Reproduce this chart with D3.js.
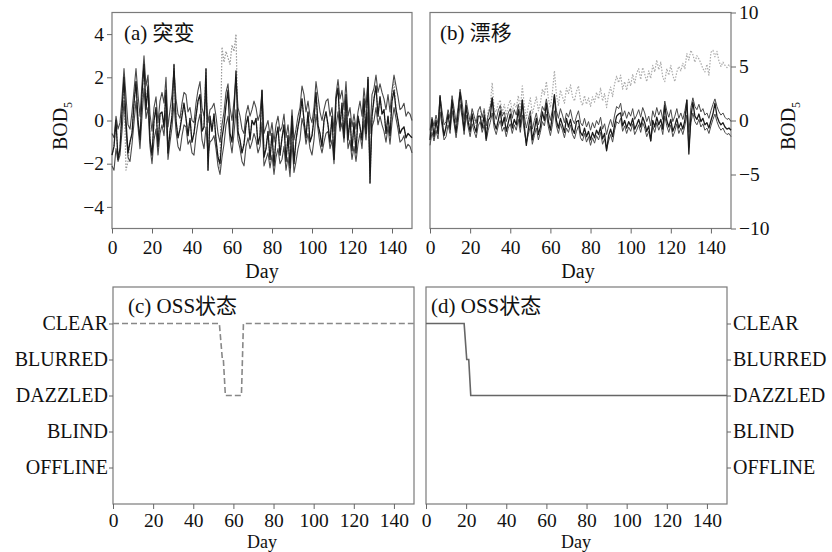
<!DOCTYPE html>
<html>
<head>
<meta charset="utf-8">
<script src="https://cdn.jsdelivr.net/npm/d3@7"></script>
<style>
body { margin: 0; background: #fff; }
text { font-family: "Liberation Serif", "Noto Sans CJK SC", serif; fill: #111; }
</style>
</head>
<body>
<div id="chart"></div>
<script>
"use strict";

// tick labels
var dayTicks = [0, 20, 40, 60, 80, 100, 120, 140];
var bodTicksA = [-4, -2, 0, 2, 4];
var bodTicksB = [-10, -5, 0, 5, 10];
var stateNames = ["CLEAR", "BLURRED", "DAZZLED", "BLIND", "OFFLINE"];

// (a) abrupt change: upper band, lower band, observed, raw (dotted)
var upperA = [-0.6,-0.8,0.2,-0.4,-0.1,1.0,2.4,1.1,-0.2,-0.4,
  0.4,1.4,2.4,1.2,0.2,1.7,3.0,1.6,2.1,0.3,
  -0.5,0.6,1.1,-0.1,0.9,1.3,0.8,2.0,-0.3,0.5,
  1.2,2.3,1.0,0.3,0.1,0.8,1.3,1.2,0.4,0.6,
  0.0,-0.1,0.8,1.4,1.8,0.6,0.2,1.2,-0.1,0.5,
  0.6,0.8,0.2,-0.6,-1.0,-0.2,0.4,1.3,1.7,0.6,
  0.0,0.9,2.0,0.6,0.2,-0.4,-0.6,0.3,0.7,0.2,
  0.5,0.9,0.6,0.0,0.3,1.4,-0.6,-0.3,0.0,-0.7,
  -0.1,-1.0,-0.2,0.2,-0.5,-0.3,0.3,-0.8,-0.2,-1.1,
  0.5,-0.9,-0.4,0.2,0.6,1.6,1.2,0.4,0.9,0.2,
  -0.1,0.6,1.8,1.1,0.4,0.0,0.5,0.9,1.0,0.2,
  0.6,-0.5,1.2,1.9,1.0,1.4,0.5,1.8,0.2,0.6,
  -0.3,0.3,-0.4,0.4,0.9,0.2,1.5,0.6,1.9,-0.6,
  1.2,1.5,2.1,1.3,1.7,1.3,1.0,0.5,1.2,0.4,
  1.4,2.1,1.6,1.1,0.5,0.6,0.8,0.2,0.4,0.3,
  0.0];
var lowerA = [-2.1,-2.3,-1.3,-1.9,-1.6,-0.5,0.9,-0.4,-1.7,-1.9,
  -1.1,-0.1,0.9,-0.3,-1.3,0.2,1.5,0.1,0.6,-1.2,
  -2.0,-0.9,-0.4,-1.6,-0.6,-0.2,-0.7,0.5,-1.8,-1.0,
  -0.3,0.8,-0.5,-1.2,-1.4,-0.7,-0.2,-0.3,-1.1,-0.9,
  -1.5,-1.6,-0.7,-0.1,0.3,-0.9,-1.3,-0.3,-1.6,-1.0,
  -0.9,-0.7,-1.3,-2.1,-2.5,-1.7,-1.1,-0.2,0.2,-0.9,
  -1.5,-0.6,0.5,-0.9,-1.3,-1.9,-2.1,-1.2,-0.8,-1.3,
  -1.0,-0.6,-0.9,-1.5,-1.2,-0.1,-2.1,-1.8,-1.5,-2.2,
  -1.6,-2.5,-1.7,-1.3,-2.0,-1.8,-1.2,-2.3,-1.7,-2.6,
  -1.0,-2.4,-1.9,-1.3,-0.9,0.1,-0.3,-1.1,-0.6,-1.3,
  -1.6,-0.9,0.3,-0.4,-1.1,-1.5,-1.0,-0.6,-0.5,-1.3,
  -0.9,-2.0,-0.3,0.4,-0.5,-0.1,-1.0,0.3,-1.3,-0.9,
  -1.8,-1.2,-1.9,-1.1,-0.6,-1.3,0.0,-0.9,0.4,-2.1,
  -0.3,0.0,0.6,-0.2,0.2,-0.2,-0.5,-1.0,-0.3,-1.1,
  -0.1,0.6,0.1,-0.4,-1.0,-0.9,-0.7,-1.3,-1.1,-1.2,
  -1.5];
var obsA = [-1.6,-1.2,0.0,-1.8,-1.3,0.4,2.0,0.0,-1.5,-1.0,
  -0.6,0.8,1.8,0.0,-0.9,1.2,2.6,0.5,1.6,-0.9,
  -1.6,0.0,0.6,-1.2,0.3,0.4,-0.3,1.4,-1.5,-0.5,
  0.2,2.6,0.0,-0.8,-0.4,0.2,0.8,0.1,-0.7,0.1,
  -1.0,-0.6,0.2,0.9,1.2,-0.5,-0.3,2.4,-2.3,0.2,
  -0.5,0.3,-0.9,-1.7,-2.0,-0.8,-0.2,0.7,1.4,-0.6,
  -1.0,0.4,2.3,-0.5,-0.9,-1.5,-1.1,-0.2,0.2,-0.9,
  0.0,-0.2,0.1,-1.1,-0.7,1.4,-1.7,-1.3,-0.5,-1.8,
  -0.6,-2.1,-0.8,-0.3,-1.6,-0.8,-0.2,-1.9,-0.7,-2.2,
  0.2,-2.0,-0.9,-0.3,0.2,1.0,0.0,-0.8,0.4,-1.0,
  -0.7,0.1,1.3,-0.2,-0.6,-1.2,0.0,0.4,-0.2,-1.0,
  0.2,-1.8,1.0,1.5,-0.3,0.8,-0.8,1.2,-0.9,0.1,
  -1.4,-0.1,-1.5,0.2,-0.3,-0.9,1.0,-0.6,2.0,-2.9,
  0.2,1.0,1.6,0.2,1.1,0.3,0.5,-0.6,0.2,-0.7,
  0.9,1.4,0.5,0.0,-0.6,-0.4,-0.3,-0.8,-0.6,-0.7,
  -0.8];
var rawA = [-1.6,-1.2,0.0,-1.8,-1.3,0.4,1.6,-2.3,-1.9,-1.0,
  -0.6,0.8,1.8,0.0,-0.9,1.2,2.6,0.5,1.9,-0.9,
  -1.6,0.0,0.6,-1.2,0.3,0.4,-0.3,1.4,-1.5,-0.5,
  0.2,2.6,0.0,-0.8,-0.4,0.8,0.8,0.1,-0.7,0.1,
  -1.0,-0.6,0.2,0.9,1.2,-0.5,-0.3,2.4,-2.3,0.2,
  -0.5,0.3,-0.9,-1.7,-2.2,3.4,2.7,3.2,2.9,2.6,
  3.5,3.2,4.0,-0.5,-0.9,-1.5,-1.1,-0.2,0.2,-0.9,
  0.0,-0.2,0.1,-1.1,-0.7,1.4,-1.7,-1.3,-0.5,-1.8,
  -0.6,-2.1,-0.8,-0.3,-1.6,-0.8,-0.2,-1.9,-0.7,-2.2,
  0.2,-2.0,-0.9,-0.3,0.2,1.0,0.0,-0.8,0.4,-1.0,
  -0.7,0.1,1.3,-0.2,-0.6,-1.2,0.0,0.4,-0.2,-1.0,
  0.2,-1.8,1.0,1.5,-0.3,0.8,-0.8,1.2,-0.9,0.1,
  -1.4,-0.1,-1.5,0.2,-0.3,-0.9,1.0,-0.6,2.0,-2.9,
  0.2,1.0,1.6,0.2,1.1,0.3,0.5,-0.6,0.2,-0.7,
  1.2,1.8,0.5,0.0,-0.6,-0.4,-0.3,-0.8,-0.6,-0.7,
  -0.8];

// (b) drift
var upperB = [-0.9,0.3,-0.5,0.5,-0.3,2.2,0.9,-0.4,-0.1,1.0,
  0.2,2.3,1.1,-0.2,1.2,2.9,1.7,0.1,1.9,0.8,
  -0.1,1.1,0.4,-0.2,0.9,1.3,0.3,1.0,-0.5,0.5,
  1.2,2.1,0.7,0.1,0.9,1.4,0.4,0.8,-0.1,0.7,
  1.1,0.2,1.0,0.5,1.5,0.3,1.9,0.4,-0.7,0.1,
  0.9,-0.8,0.0,0.7,-0.4,0.3,1.3,0.9,2.0,0.8,
  0.0,1.0,2.3,0.9,0.2,1.1,0.5,-0.2,0.7,0.3,
  1.0,0.1,-0.3,0.4,0.9,-0.2,-0.5,0.2,-0.6,-0.1,
  -0.9,-0.2,-0.7,0.0,-0.4,0.3,-0.8,-0.3,-1.3,-0.5,
  0.1,-0.6,0.5,1.3,1.1,1.6,0.4,0.9,0.2,0.8,
  0.4,1.1,0.1,0.5,1.0,0.3,1.2,0.7,-0.1,0.4,
  -0.5,0.9,0.3,1.2,0.5,1.0,0.1,1.8,0.9,0.3,
  1.0,-0.1,0.4,1.1,0.2,0.7,0.1,0.9,1.9,-1.1,
  1.2,2.1,1.3,1.0,1.5,0.8,1.1,0.5,0.7,0.2,
  0.9,1.5,2.0,1.3,0.8,0.5,0.7,0.3,0.1,0.2,
  -0.1];
var lowerB = [-2.3,-1.1,-1.9,-0.9,-1.7,0.8,-0.5,-1.8,-1.5,-0.4,
  -1.2,0.9,-0.3,-1.6,-0.2,1.5,0.3,-1.3,0.5,-0.6,
  -1.5,-0.3,-1.0,-1.6,-0.5,-0.1,-1.1,-0.4,-1.9,-0.9,
  -0.2,0.7,-0.7,-1.3,-0.5,0.0,-1.0,-0.6,-1.5,-0.7,
  -0.3,-1.2,-0.4,-0.9,0.1,-1.1,0.5,-1.0,-2.1,-1.3,
  -0.5,-2.2,-1.4,-0.7,-1.8,-1.1,-0.1,-0.5,0.6,-0.6,
  -1.4,-0.4,0.9,-0.5,-1.2,-0.3,-0.9,-1.6,-0.7,-1.1,
  -0.4,-1.3,-1.7,-1.0,-0.5,-1.6,-1.9,-1.2,-2.0,-1.5,
  -2.3,-1.6,-2.1,-1.4,-1.8,-1.1,-2.2,-1.7,-2.7,-1.9,
  -1.3,-2.0,-0.9,-0.1,-0.3,0.2,-1.0,-0.5,-1.2,-0.6,
  -1.0,-0.3,-1.3,-0.9,-0.4,-1.1,-0.2,-0.7,-1.5,-1.0,
  -1.9,-0.5,-1.1,-0.2,-0.9,-0.4,-1.3,0.4,-0.5,-1.1,
  -0.4,-1.5,-1.0,-0.3,-1.2,-0.7,-1.3,-0.5,0.5,-2.5,
  -0.2,0.7,-0.1,-0.4,0.1,-0.6,-0.3,-0.9,-0.7,-1.2,
  -0.5,0.1,0.6,-0.1,-0.6,-0.9,-0.7,-1.1,-1.3,-1.2,
  -1.5];
var obsB = [-1.8,0.1,-1.5,0.0,-1.2,2.3,0.0,-1.4,-0.6,0.6,
  -0.8,1.9,0.2,-1.1,0.7,2.6,0.8,-0.9,1.4,-0.1,
  -1.0,0.6,-0.5,-1.1,0.4,0.4,-0.7,0.5,-1.7,0.0,
  0.3,2.1,-0.2,-0.8,0.0,0.9,-0.5,0.3,-1.0,-0.2,
  0.6,-0.7,0.1,-0.4,1.0,-0.6,1.9,-0.5,-2.3,-0.8,
  0.4,-1.8,-0.9,0.2,-1.3,-0.6,0.8,0.0,1.6,-0.1,
  -0.9,0.5,2.4,0.0,-0.7,0.2,-0.4,-1.1,0.2,-0.6,
  0.1,-0.8,-1.2,-0.1,0.0,-1.1,-1.4,-0.7,-1.5,-1.0,
  -1.8,-1.1,-1.6,-0.9,-1.3,-0.6,-1.7,-1.2,-2.8,-1.4,
  -0.8,-1.5,-0.4,0.4,0.6,0.7,-0.5,0.0,-0.7,-0.1,
  -0.5,0.2,-0.8,-0.4,0.1,-0.6,0.3,-0.2,-1.0,-0.5,
  -1.9,0.0,-0.6,0.3,-0.4,0.1,-0.8,1.4,0.0,-0.6,
  0.1,-1.0,-0.5,0.2,-0.7,-0.2,-0.8,0.0,1.9,-3.1,
  0.3,1.7,0.4,0.1,0.6,-0.1,0.2,-0.4,-0.2,-0.7,
  0.0,0.6,1.6,0.4,-0.1,-0.4,-0.2,-0.6,-0.8,-0.7,
  -0.9];
var rawB = [-1.8,0.1,-1.5,0.0,-1.2,2.3,0.0,-1.4,-0.6,0.6,
  -0.8,1.9,0.2,-1.1,0.7,2.6,0.8,-0.9,1.4,0.1,
  -0.4,1.0,0.2,-0.5,0.9,1.1,0.0,1.2,-0.8,0.9,
  1.4,3.5,1.0,0.8,1.6,1.9,0.7,1.5,0.5,1.4,
  1.9,0.8,1.6,1.2,2.3,1.0,3.2,1.4,0.2,1.3,
  2.1,0.6,1.4,2.2,0.9,1.6,2.9,2.4,3.6,2.0,
  1.2,2.6,4.6,2.4,1.4,2.8,2.2,1.6,3.0,2.5,
  3.3,2.2,1.8,2.7,3.2,1.9,1.4,2.3,1.5,2.1,
  1.3,2.2,1.7,2.6,2.0,3.0,1.8,2.5,1.2,2.4,
  3.1,2.2,3.4,4.1,3.5,4.2,2.9,3.6,2.8,3.8,
  3.2,4.3,3.4,4.4,4.8,3.8,4.9,4.3,3.6,4.6,
  3.9,5.1,4.5,5.6,4.7,5.4,4.0,3.6,4.8,4.2,
  5.1,4.2,3.6,4.5,5.0,4.6,5.3,4.8,6.2,5.6,
  6.5,6.1,5.4,6.0,5.7,5.3,4.8,4.5,5.2,4.2,
  6.3,6.5,5.9,6.4,5.5,5.0,5.4,5.1,4.9,5.2,
  4.9];

// (c) and (d) OSS state steps
var stateDaysC = [0, 53, 54.5, 55, 56, 64, 65, 150];
var stateValsC = ["CLEAR", "CLEAR", "BLURRED", "BLURRED", "DAZZLED", "DAZZLED", "CLEAR", "CLEAR"];
var stateDaysD = [0, 19, 20.3, 21.3, 22.3, 150];
var stateValsD = ["CLEAR", "CLEAR", "BLURRED", "BLURRED", "DAZZLED", "DAZZLED"];

var svg = d3.select("#chart").append("svg")
  .attr("width", 832).attr("height", 552);

var frameColor = "#7a7a7a";

// scales
var xA = d3.scaleLinear().domain([0, 150]).range([112, 412]);
var yA = d3.scaleLinear().domain([-5, 5]).range([228.5, 12.5]);
var xB = d3.scaleLinear().domain([0, 150]).range([430, 731]);
var yB = d3.scaleLinear().domain([-10, 10]).range([228.5, 12.5]);
var xC = d3.scaleLinear().domain([0, 150]).range([113, 414]);
var xD = d3.scaleLinear().domain([0, 150]).range([426, 727]);
var yS = d3.scalePoint().domain(stateNames).range([323.5, 467.5]);

function tidy(g, size) {
  g.select(".domain").remove();
  g.selectAll(".tick line").attr("stroke", "#666");
  g.selectAll(".tick text").attr("fill", "#111").style("font-size", size);
}

function frame(x, top, bottom) {
  svg.append("rect")
    .attr("x", x.range()[0]).attr("y", top)
    .attr("width", x.range()[1] - x.range()[0])
    .attr("height", bottom - top)
    .attr("fill", "none").attr("stroke", frameColor).attr("stroke-width", 1.2);
}

function xAxisAt(x, yPos, pad) {
  svg.append("g")
    .attr("transform", "translate(0," + yPos + ")")
    .call(d3.axisBottom(x).tickValues(dayTicks).tickSize(5).tickPadding(pad))
    .call(tidy, "19.5px");
}

function drawSeries(x, y, arr, color, width, dash) {
  var line = d3.line()
    .x(function(d, i) { return x(i); })
    .y(function(d) { return y(d); });
  var p = svg.append("path")
    .datum(arr)
    .attr("d", line)
    .attr("fill", "none")
    .attr("stroke", color)
    .attr("stroke-width", width)
    .attr("stroke-linejoin", "round");
  if (dash) p.attr("stroke-dasharray", dash);
}

function bodLabel(xPos, yPos) {
  var t = svg.append("text")
    .attr("transform", "translate(" + xPos + "," + yPos + ") rotate(-90)")
    .attr("text-anchor", "middle")
    .style("font-size", "20px");
  t.append("tspan").text("BOD");
  t.append("tspan").attr("dy", 5).style("font-size", "12px").text("5");
}

// ---- panel (a)
frame(xA, 12.5, 228.5);
drawSeries(xA, yA, rawA, "#999", 1.2, "1.5,1.5");
drawSeries(xA, yA, upperA, "#4a4a4a", 1.1);
drawSeries(xA, yA, lowerA, "#4a4a4a", 1.1);
drawSeries(xA, yA, obsA, "#1a1a1a", 1.3);
svg.append("g").attr("transform", "translate(112,0)")
  .call(d3.axisLeft(yA).tickValues(bodTicksA).tickSize(5).tickPadding(3))
  .call(tidy, "19.5px");
xAxisAt(xA, 228.5, 7);
svg.append("text").attr("x", 124).attr("y", 40).style("font-size", "21px").text("(a) 突变");
svg.append("text").attr("x", 262).attr("y", 278).attr("text-anchor", "middle").style("font-size", "20px").text("Day");
bodLabel(67, 126);

// ---- panel (b)
frame(xB, 12.5, 228.5);
drawSeries(xB, yB, rawB, "#aaa", 1.2, "1.5,1.5");
drawSeries(xB, yB, upperB, "#4a4a4a", 1.0);
drawSeries(xB, yB, lowerB, "#4a4a4a", 1.0);
drawSeries(xB, yB, obsB, "#1a1a1a", 1.3);
svg.append("g").attr("transform", "translate(731,0)")
  .call(d3.axisRight(yB).tickValues(bodTicksB).tickSize(5).tickPadding(3))
  .call(tidy, "19.5px");
xAxisAt(xB, 228.5, 7);
svg.append("text").attr("x", 440).attr("y", 40).style("font-size", "21px").text("(b) 漂移");
svg.append("text").attr("x", 578).attr("y", 278).attr("text-anchor", "middle").style("font-size", "20px").text("Day");
bodLabel(795, 126);

// ---- panel (c)
var stepLine = function(x) {
  return d3.line()
    .x(function(d) { return x(d[0]); })
    .y(function(d) { return yS(d[1]); });
};
frame(xC, 287, 504);
svg.append("path")
  .datum(d3.zip(stateDaysC, stateValsC))
  .attr("d", stepLine(xC))
  .attr("fill", "none").attr("stroke", "#888").attr("stroke-width", 1.6)
  .attr("stroke-dasharray", "6,3");
svg.append("g").attr("transform", "translate(113,0)")
  .call(d3.axisLeft(yS).tickSize(4).tickPadding(1))
  .call(tidy, "20px");
xAxisAt(xC, 504, 4);
svg.append("text").attr("x", 262).attr("y", 548).attr("text-anchor", "middle").style("font-size", "18px").text("Day");
svg.append("text").attr("x", 128).attr("y", 313).style("font-size", "21px").text("(c) OSS状态");

// ---- panel (d)
frame(xD, 287, 504);
svg.append("path")
  .datum(d3.zip(stateDaysD, stateValsD))
  .attr("d", stepLine(xD))
  .attr("fill", "none").attr("stroke", "#666").attr("stroke-width", 1.6);
svg.append("g").attr("transform", "translate(727,0)")
  .call(d3.axisRight(yS).tickSize(4).tickPadding(2))
  .call(tidy, "20px");
xAxisAt(xD, 504, 4);
svg.append("text").attr("x", 431).attr("y", 313).style("font-size", "21px").text("(d) OSS状态");
svg.append("text").attr("x", 576).attr("y", 548).attr("text-anchor", "middle").style("font-size", "18px").text("Day");
</script>
</body>
</html>
